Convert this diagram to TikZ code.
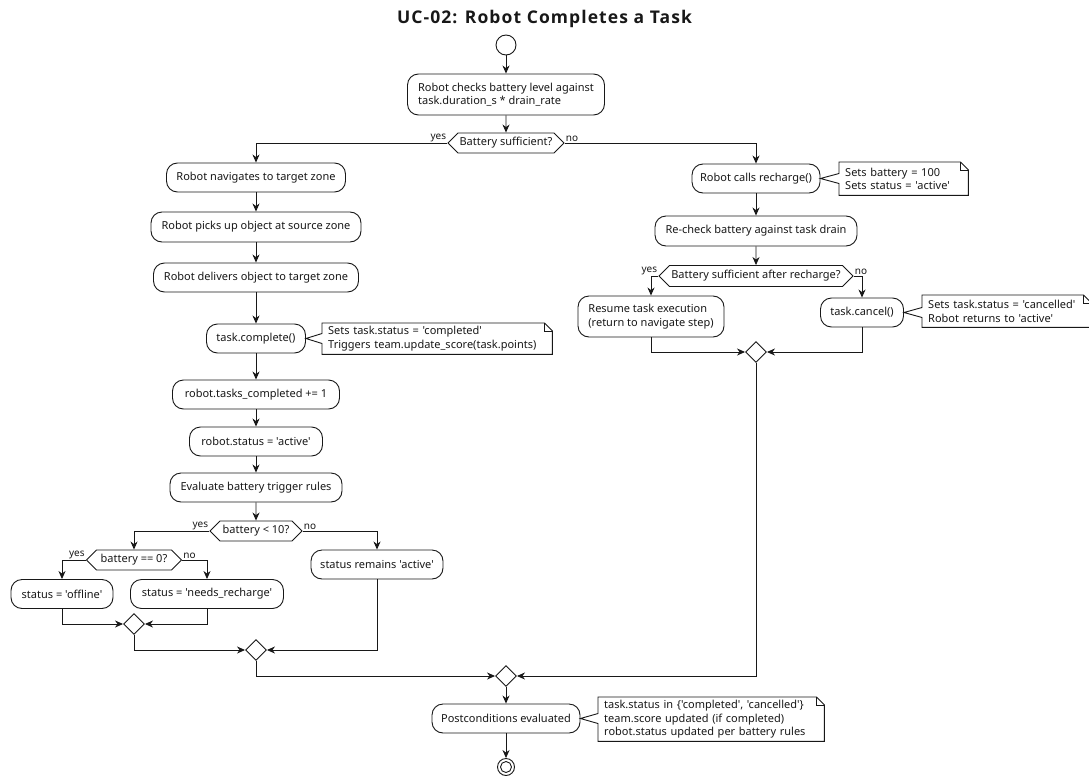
\documentclass[tikz,border=0pt]{standalone}
\usepackage{fontspec}
\setmainfont{Noto Sans}[Ligatures=TeXOff]
\newfontfamily\titlefont{Open Sans}[LetterSpace=6.2]
\usetikzlibrary{arrows.meta,shapes.geometric,shapes.symbols,calc}
\definecolor{ln}{HTML}{181818}
\begin{document}
\begin{tikzpicture}[x=1pt,y=-1pt,
  every node/.style={font=\fontsize{11}{13.5}\selectfont, text=ln},
  act/.style={draw=ln, line width=0.9pt, fill=white, rounded corners=11pt, inner sep=0pt, align=left},
  dec/.style={shape=signal, signal to=west and east, signal pointer angle=90, draw=ln, line width=0.9pt, fill=white, inner sep=0pt, minimum height=20},
  mrg/.style={diamond, draw=ln, line width=0.9pt, fill=white, inner sep=0pt, minimum size=21},
  flow/.style={draw=ln, line width=0.9pt, -{Stealth[length=8pt,width=7pt,inset=2.5pt]}},
  lbl/.style={font=\fontsize{10}{12}\selectfont, inner sep=1pt},
  notebox/.style={anchor=north west, inner xsep=6pt, inner ysep=0pt, align=left},
  noteline/.style={draw=ln, line width=0.9pt, line join=miter},
  term/.style={circle, draw=ln, line width=0.9pt, fill=white, inner sep=0pt},
]
\fill[white] (0,0) rectangle (1089,776);
\useasboundingbox (0,0) rectangle (1089,776);

\node[font=\titlefont\fontsize{17.5}{22}\selectfont\bfseries] (title) at (544.5,18.5) {UC-02: Robot Completes a Task};

\node[term, minimum size=20] (start) at (506,45) {};
\node[act, minimum width=197, minimum height=41] (b1) at (506,94.5) {Robot checks battery level against\\task.duration\_s * drain\_rate};
\node[dec, minimum width=116] (d1) at (506,143) {Battery sufficient?};

% left column
\node[act, minimum width=179, minimum height=29] (n1) at (256,177.5) {Robot navigates to target zone};
\node[act, minimum width=210, minimum height=30] (n2) at (256,227) {Robot picks up object at source zone};
\node[act, minimum width=205, minimum height=29] (n3) at (256,277.5) {Robot delivers object to target zone};
\node[act, minimum width=99, minimum height=29] (tc) at (256,338.5) {task.complete()};
\node[act, minimum width=167, minimum height=29] (rt) at (256,394.5) {robot.tasks\_completed += 1};
\node[act, minimum width=133, minimum height=29] (rs) at (256,441.5) {robot.status = 'active'};
\node[act, minimum width=172, minimum height=29] (ev) at (256,487.5) {Evaluate battery trigger rules};
\node[dec, minimum width=92] (d2) at (256,531) {battery < 10?};
\node[dec, minimum width=95] (d3) at (134,560) {battery == 0?};
\node[act, minimum width=102, minimum height=29] (off) at (62,594) {status = 'offline'};
\node[act, minimum width=153, minimum height=29] (nr) at (207,594) {status = 'needs\_recharge'};
\node[act, minimum width=132, minimum height=29] (sra) at (377,564.5) {status remains 'active'};
\node[mrg] (m1) at (134,624) {};
\node[mrg] (m2) at (256,650) {};
\node[mrg] (m3) at (506,676) {};

% right column
\node[act, minimum width=128, minimum height=29] (rc) at (756,178.5) {Robot calls recharge()};
\node[act, minimum width=202, minimum height=30] (rcb) at (756,231) {Re-check battery against task drain};
\node[dec, minimum width=194, minimum height=21] (d4) at (756,276) {Battery sufficient after recharge?};
\node[act, minimum width=146, minimum height=41] (res) at (651,316.5) {Resume task execution\\(return to navigate step)};
\node[act, minimum width=83, minimum height=29] (can) at (862,312.5) {task.cancel()};
\node[mrg] (m4) at (756,352) {};

% bottom
\node[act, minimum width=148, minimum height=29] (post) at (506,718.5) {Postconditions evaluated};
\node[term, minimum size=17] (end) at (506,767) {};
\node[term, minimum size=11] (endin) at (end.center) {};

% connectors
\draw[flow] (start) -- (b1);
\draw[flow] (b1) -- (d1);
\draw[flow] (d1.west) -| (n1.north);
\draw[flow] (d1.east) -| (rc.north);
\draw[flow] (n1) -- (n2);
\draw[flow] (n2) -- (n3);
\draw[flow] (n3) -- (tc);
\draw[flow] (tc) -- (rt);
\draw[flow] (rt) -- (rs);
\draw[flow] (rs) -- (ev);
\draw[flow] (ev) -- (d2);
\draw[flow] (d2.west) -| (d3.north);
\draw[flow] (d2.east) -| (sra.north);
\draw[flow] (d3.west) -| (off.north);
\draw[flow] (d3.east) -| (nr.north);
\draw[flow] (off.south) |- (m1.west);
\draw[flow] (nr.south) |- (m1.east);
\draw[flow] (m1.south) |- (m2.west);
\draw[flow] (sra.south) |- (m2.east);
\draw[flow] (m2.south) |- (m3.west);
\draw[flow] (rc) -- (rcb);
\draw[flow] (rcb) -- (d4);
\draw[flow] (d4.west) -| (res.north);
\draw[flow] (d4.east) -| (can.north);
\draw[flow] (res.south) |- (m4.west);
\draw[flow] (can.south) |- (m4.east);
\draw[flow] (m4.south) |- (m3.east);
\draw[flow] (m3) -- (post);
\draw[flow] (post) -- (end);

% branch labels
\node[lbl, anchor=south east] (y1) at (d1.west) {yes};
\node[lbl, anchor=south west] (o1) at (d1.east) {no};
\node[lbl, anchor=south east] (y2) at (d2.west) {yes};
\node[lbl, anchor=south west] (o2) at (d2.east) {no};
\node[lbl, anchor=south east] (y3) at (d3.west) {yes};
\node[lbl, anchor=south west] (o3) at (d3.east) {no};
\node[lbl, anchor=south east] (y4) at (d4.west) {yes};
\node[lbl, anchor=south west] (o4) at (d4.east) {no};

% notes
\node[notebox, text width=218, minimum height=31] (N1) at (322,323) {Sets task.status = 'completed'\\Triggers team.update\_score(task.points)};
\node[notebox, text width=117, minimum height=33] (N2) at (839,162) {Sets battery = 100\\Sets status = 'active'};
\node[notebox, text width=157, minimum height=32] (N3) at (922,295) {Sets task.status = 'cancelled'\\Robot returns to 'active'};
\node[notebox, text width=214, minimum height=44] (N4) at (598,697) {task.status in \{'completed', 'cancelled'\}\\team.score updated (if completed)\\robot.status updated per battery rules};

\foreach \N/\T in {N1/tc, N2/rc, N3/can, N4/post}{
  \draw[noteline] (\N.north west) -- ($(\N.west |- \T.east)+(0,-5)$) -- (\T.east) -- ($(\N.west |- \T.east)+(0,5)$) -- (\N.south west) -- (\N.south east) -- ($(\N.north east)+(0,8)$) -- ($(\N.north east)+(-8,0)$) -- cycle;
  \draw[noteline] ($(\N.north east)+(-8,0)$) -- ($(\N.north east)+(-8,8)$) -- ($(\N.north east)+(0,8)$);
}
\end{tikzpicture}
\end{document}
